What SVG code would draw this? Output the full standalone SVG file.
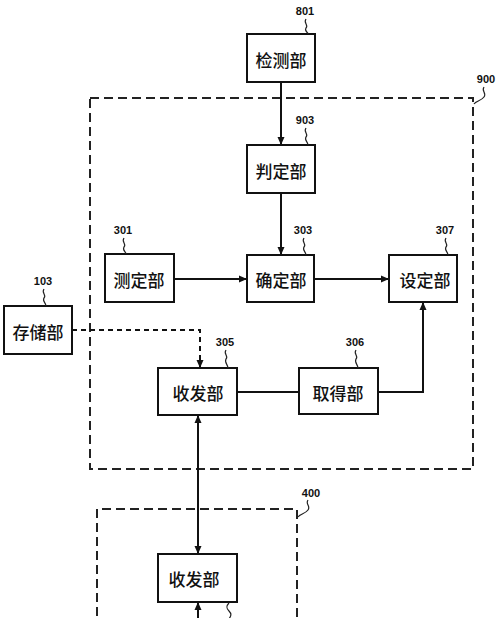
<svg xmlns="http://www.w3.org/2000/svg" width="500" height="618" viewBox="0 0 500 618">
<defs>
<marker id="ah" markerWidth="8" markerHeight="10" refX="8" refY="5" orient="auto" markerUnits="userSpaceOnUse">
<path d="M0,1.5 L8,5 L0,8.5 Z" fill="#111"/>
</marker>
<marker id="ahs" markerWidth="8" markerHeight="10" refX="0" refY="5" orient="auto" markerUnits="userSpaceOnUse">
<path d="M8,1.5 L0,5 L8,8.5 Z" fill="#111"/>
</marker>
</defs>
<style>
.box{fill:#fff;stroke:#111;stroke-width:2}
.grp{fill:none;stroke:#222;stroke-width:2;stroke-dasharray:9,5}
.t{font-family:"Noto Sans CJK SC","Noto Sans CJK JP",sans-serif;font-size:17px;font-weight:500;fill:#111;text-anchor:middle;dominant-baseline:central}
.n{font-family:"Liberation Sans",Arial,sans-serif;font-size:11px;font-weight:bold;fill:#111;text-anchor:middle}
.ld{fill:none;stroke:#222;stroke-width:1.2}
.c{fill:none;stroke:#111;stroke-width:2}
.cd{fill:none;stroke:#111;stroke-width:2;stroke-dasharray:5,4}
</style>
<rect width="500" height="618" fill="#fff"/>
<g id="g900">
<rect class="grp" x="90" y="98" width="383" height="371"/>
<text class="n" x="486" y="83">900</text>
<path class="ld" d="M484,87 c-3,4 3,6 0,10 c-3,4 -8,4 -10,7"/>
</g>
<g id="g400">
<path class="grp" d="M97,630 V509 H297 V630"/>
<text class="n" x="311" y="497">400</text>
<path class="ld" d="M308,500 c-3,4 3,6 0,10 c-3,4 -8,4 -10,7"/>
</g>
<g id="connectors">
<line class="c" x1="281" y1="82" x2="281" y2="145" marker-end="url(#ah)"/>
<line class="c" x1="281" y1="193" x2="281" y2="255" marker-end="url(#ah)"/>
<line class="c" x1="174" y1="279" x2="247" y2="279" marker-end="url(#ah)"/>
<line class="c" x1="314" y1="279" x2="389" y2="279" marker-end="url(#ah)"/>
<path class="cd" d="M72,330 H200 V368" marker-end="url(#ah)"/>
<line class="c" x1="237" y1="392" x2="299" y2="392"/>
<path class="c" d="M378,392 H423 V302" marker-end="url(#ah)"/>
<line class="c" x1="198" y1="415" x2="198" y2="554" marker-start="url(#ahs)" marker-end="url(#ah)"/>
<line class="c" x1="198" y1="602" x2="198" y2="625" marker-start="url(#ahs)"/>
</g>
<g id="n801">
<rect class="box" x="247" y="34" width="68" height="48"/>
<text class="t" x="281" y="59">检测部</text>
<text class="n" x="305" y="15">801</text>
<path class="ld" d="M306,19 c-3,4 3,6 0,9 c-2,3 2,4 2,6"/>
</g>
<g id="n903">
<rect class="box" x="247" y="145" width="68" height="48"/>
<text class="t" x="281" y="170">判定部</text>
<text class="n" x="305" y="124">903</text>
<path class="ld" d="M306,128 c-3,4 3,6 0,9 c-2,3 2,5 2,8"/>
</g>
<g id="n301">
<rect class="box" x="105" y="254" width="69" height="48"/>
<text class="t" x="139" y="279">测定部</text>
<text class="n" x="123" y="234">301</text>
<path class="ld" d="M124,238 c-3,4 3,6 0,9 c-2,3 2,5 2,7"/>
</g>
<g id="n303">
<rect class="box" x="247" y="255" width="67" height="47"/>
<text class="t" x="281" y="279">确定部</text>
<text class="n" x="303" y="234">303</text>
<path class="ld" d="M304,238 c-3,4 3,6 0,9 c-2,3 2,5 2,8"/>
</g>
<g id="n307">
<rect class="box" x="389" y="255" width="68" height="47"/>
<text class="t" x="425" y="279">设定部</text>
<text class="n" x="445" y="234">307</text>
<path class="ld" d="M446,238 c-3,4 3,6 0,9 c-2,3 2,5 2,8"/>
</g>
<g id="n103">
<rect class="box" x="4" y="306" width="68" height="48"/>
<text class="t" x="38" y="331">存储部</text>
<text class="n" x="43" y="285">103</text>
<path class="ld" d="M44,289 c-3,4 3,6 0,9 c-2,3 2,5 2,8"/>
</g>
<g id="n305">
<rect class="box" x="158" y="368" width="79" height="47"/>
<text class="t" x="198" y="392">收发部</text>
<text class="n" x="225" y="346">305</text>
<path class="ld" d="M226,350 c-3,4 3,6 0,9 c-2,3 2,6 2,9"/>
</g>
<g id="n306">
<rect class="box" x="299" y="368" width="79" height="46"/>
<text class="t" x="338" y="392">取得部</text>
<text class="n" x="355" y="346">306</text>
<path class="ld" d="M356,350 c-3,4 3,6 0,9 c-2,3 2,6 2,9"/>
</g>
<g id="n400rx">
<rect class="box" x="158" y="554" width="79" height="48"/>
<text class="t" x="194" y="578">收发部</text>
<path class="ld" d="M229,603 c-3,3 -3,5 0,8 c3,3 2,5 0,8"/>
</g>
</svg>
